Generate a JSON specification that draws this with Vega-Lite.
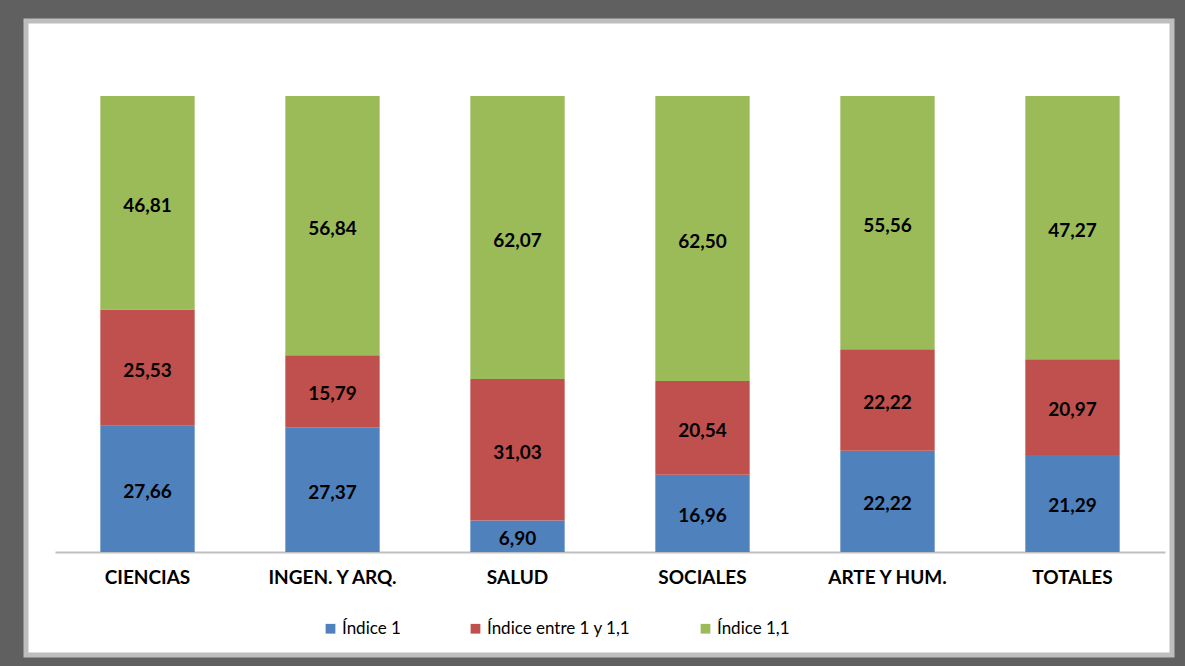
{
  "$schema": "https://vega.github.io/schema/vega-lite/v6.json",
  "width": 1146,
  "height": 634,
  "autosize": {"type": "none"},
  "padding": {"left": 26, "top": 21, "right": 13, "bottom": 11},
  "background": "#606060",
  "config": {
    "view": {"fill": "white", "stroke": "#BEBEBE", "strokeWidth": 5},
    "font": "Lato"
  },
  "data": {
    "values": [
      {"area": "CIENCIAS", "serie": "Índice 1", "orden": 1, "valor": 27.66, "etiqueta": "27,66"},
      {"area": "CIENCIAS", "serie": "Índice entre 1 y 1,1", "orden": 2, "valor": 25.53, "etiqueta": "25,53"},
      {"area": "CIENCIAS", "serie": "Índice 1,1", "orden": 3, "valor": 46.81, "etiqueta": "46,81"},
      {"area": "INGEN. Y ARQ.", "serie": "Índice 1", "orden": 1, "valor": 27.37, "etiqueta": "27,37"},
      {"area": "INGEN. Y ARQ.", "serie": "Índice entre 1 y 1,1", "orden": 2, "valor": 15.79, "etiqueta": "15,79"},
      {"area": "INGEN. Y ARQ.", "serie": "Índice 1,1", "orden": 3, "valor": 56.84, "etiqueta": "56,84"},
      {"area": "SALUD", "serie": "Índice 1", "orden": 1, "valor": 6.90, "etiqueta": "6,90"},
      {"area": "SALUD", "serie": "Índice entre 1 y 1,1", "orden": 2, "valor": 31.03, "etiqueta": "31,03"},
      {"area": "SALUD", "serie": "Índice 1,1", "orden": 3, "valor": 62.07, "etiqueta": "62,07"},
      {"area": "SOCIALES", "serie": "Índice 1", "orden": 1, "valor": 16.96, "etiqueta": "16,96"},
      {"area": "SOCIALES", "serie": "Índice entre 1 y 1,1", "orden": 2, "valor": 20.54, "etiqueta": "20,54"},
      {"area": "SOCIALES", "serie": "Índice 1,1", "orden": 3, "valor": 62.50, "etiqueta": "62,50"},
      {"area": "ARTE Y HUM.", "serie": "Índice 1", "orden": 1, "valor": 22.22, "etiqueta": "22,22"},
      {"area": "ARTE Y HUM.", "serie": "Índice entre 1 y 1,1", "orden": 2, "valor": 22.22, "etiqueta": "22,22"},
      {"area": "ARTE Y HUM.", "serie": "Índice 1,1", "orden": 3, "valor": 55.56, "etiqueta": "55,56"},
      {"area": "TOTALES", "serie": "Índice 1", "orden": 1, "valor": 21.29, "etiqueta": "21,29"},
      {"area": "TOTALES", "serie": "Índice entre 1 y 1,1", "orden": 2, "valor": 20.97, "etiqueta": "20,97"},
      {"area": "TOTALES", "serie": "Índice 1,1", "orden": 3, "valor": 57.74, "etiqueta": "47,27"}
    ]
  },
  "transform": [
    {"stack": "valor", "groupby": ["area"], "sort": [{"field": "orden", "order": "ascending"}], "as": ["v0", "v1"]},
    {"calculate": "(datum.v0 + datum.v1) / 2", "as": "vmid"}
  ],
  "encoding": {
    "x": {
      "field": "area",
      "type": "nominal",
      "sort": null,
      "scale": {"range": [29, 1139], "paddingInner": 0.49, "paddingOuter": 0.245},
      "axis": {
        "title": null,
        "orient": "bottom",
        "offset": -103,
        "ticks": false,
        "labelAngle": 0,
        "labelFontSize": 19,
        "labelFontWeight": "bold",
        "labelColor": "#000000",
        "labelPadding": 16,
        "domainColor": "#BFBFBF",
        "domainWidth": 2,
        "grid": false
      }
    }
  },
  "layer": [
    {
      "mark": {"type": "bar"},
      "encoding": {
        "y": {
          "field": "v0",
          "type": "quantitative",
          "scale": {"domain": [-22.59, 116.45], "nice": false, "zero": false},
          "axis": null
        },
        "y2": {"field": "v1"},
        "color": {
          "field": "serie",
          "type": "nominal",
          "scale": {
            "domain": ["Índice 1", "Índice entre 1 y 1,1", "Índice 1,1"],
            "range": ["#4F81BD", "#C0504D", "#9BBB59"]
          },
          "legend": {
            "title": null,
            "orient": "none",
            "direction": "horizontal",
            "legendX": 296,
            "legendY": 599,
            "padding": 0,
            "symbolType": "square",
            "symbolSize": 95,
            "symbolStrokeWidth": 0,
            "labelFontSize": 17,
            "labelColor": "#000000",
            "labelOffset": 3,
            "columnPadding": 66
          }
        }
      }
    },
    {
      "mark": {"type": "text", "fontSize": 19, "fontWeight": "bold", "color": "#000000", "baseline": "middle", "dy": 3},
      "encoding": {
        "y": {"field": "vmid", "type": "quantitative"},
        "text": {"field": "etiqueta"}
      }
    }
  ]
}
